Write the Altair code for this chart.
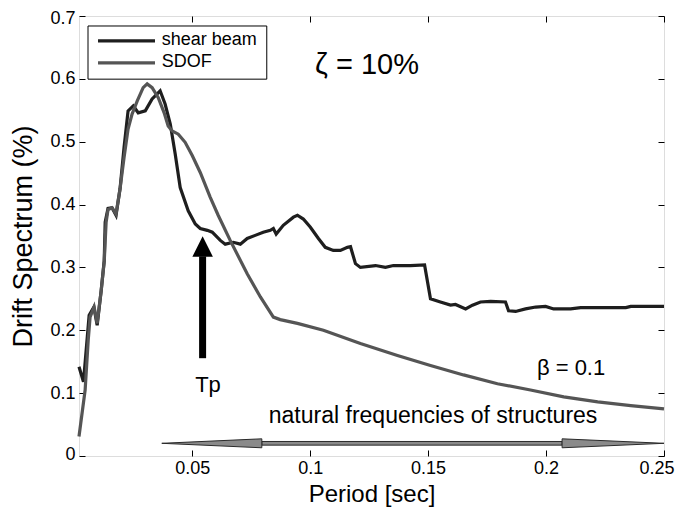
import altair as alt
import pandas as pd

# ---------------- data ----------------
beam_period = [0.0020, 0.0039, 0.0063, 0.0083, 0.0097, 0.0114, 0.0127, 0.0131, 0.0143, 0.0160,
               0.0177, 0.0194, 0.0211, 0.0228, 0.0250, 0.0271, 0.0301, 0.0330, 0.0364, 0.0385,
               0.0407, 0.0428, 0.0449, 0.0483, 0.0513, 0.0534, 0.0564, 0.0585, 0.0619, 0.0640,
               0.0674, 0.0704, 0.0733, 0.0767, 0.0801, 0.0831, 0.0844, 0.0856, 0.0886, 0.0929,
               0.0946, 0.0971, 0.1001, 0.1035, 0.1064, 0.1098, 0.1128, 0.1158, 0.1171, 0.1192,
               0.1213, 0.1277, 0.1319, 0.1353, 0.1425, 0.1485, 0.1510, 0.1552, 0.1595, 0.1616,
               0.1659, 0.1688, 0.1722, 0.1765, 0.1828, 0.1841, 0.1871, 0.1913, 0.1956, 0.1998,
               0.2032, 0.2104, 0.2147, 0.2338, 0.2359, 0.2500]
beam_drift = [0.142, 0.118, 0.224, 0.237, 0.208, 0.263, 0.311, 0.372, 0.394, 0.395,
              0.383, 0.425, 0.491, 0.549, 0.557, 0.546, 0.549, 0.568, 0.581, 0.560,
              0.528, 0.480, 0.427, 0.390, 0.369, 0.362, 0.359, 0.356, 0.343, 0.337,
              0.340, 0.337, 0.346, 0.351, 0.356, 0.359, 0.362, 0.353, 0.367, 0.380,
              0.383, 0.377, 0.364, 0.346, 0.332, 0.327, 0.327, 0.332, 0.333, 0.306,
              0.300, 0.303, 0.300, 0.303, 0.303, 0.304, 0.250, 0.245, 0.240, 0.241,
              0.234, 0.240, 0.245, 0.246, 0.245, 0.231, 0.230, 0.234, 0.237, 0.238,
              0.234, 0.234, 0.236, 0.236, 0.238, 0.238]

sdof_period = [0.0020, 0.0046, 0.0059, 0.0067, 0.0084, 0.0097, 0.0114, 0.0127, 0.0135, 0.0143,
               0.0160, 0.0177, 0.0194, 0.0211, 0.0228, 0.0245, 0.0267, 0.0292, 0.0309, 0.0330,
               0.0356, 0.0381, 0.0398, 0.0415, 0.0441, 0.0470, 0.0500, 0.0534, 0.0576, 0.0610,
               0.0661, 0.0733, 0.0789, 0.0844, 0.0873, 0.0946, 0.1056, 0.1213, 0.1370, 0.1510,
               0.1650, 0.1794, 0.1934, 0.2075, 0.2219, 0.2359, 0.2500]
sdof_drift = [0.031, 0.105, 0.184, 0.221, 0.237, 0.211, 0.263, 0.310, 0.372, 0.392,
              0.395, 0.385, 0.425, 0.475, 0.520, 0.544, 0.565, 0.586, 0.592, 0.586,
              0.570, 0.546, 0.525, 0.517, 0.512, 0.499, 0.478, 0.451, 0.412, 0.383,
              0.343, 0.290, 0.253, 0.221, 0.217, 0.211, 0.200, 0.179, 0.160, 0.144,
              0.129, 0.115, 0.105, 0.094, 0.086, 0.080, 0.075]

series_names = ["shear beam", "SDOF"]
series_colors = ["#1e1e1e", "#555555"]

x_ticks = [0.05, 0.1, 0.15, 0.2, 0.25]
y_ticks = [0, 0.1, 0.2, 0.3, 0.4, 0.5, 0.6, 0.7]
x_domain = [0.002, 0.25]
y_domain = [0, 0.7]

# annotation texts (position in data units)
note_text = ["ζ = 10%", "β = 0.1", "Tp", "natural frequencies of structures"]
note_x = [0.1241, 0.2106, 0.0567, 0.1521]
note_y = [0.6079, 0.1286, 0.1021, 0.0529]
note_size = [29, 22, 22, 23]

# Tp arrow
tp_x = [0.0544]
tp_shaft = [0.1556, 0.3175]
tp_head_y = [0.3333]

# double-headed arrow ("natural frequencies of structures")
band_y = 0.0202
band_tips = [0.0371, 0.2500]
band_bases = [0.0795, 0.2068]
band_head_half = 0.00714
band_shaft_half = 0.0029

# legend box (data units)
legend_box = dict(x=0.00582, x2=0.0816, y=0.5995, y2=0.6841)
legend_line_x = [0.01006, 0.03422]
legend_row_y = [0.6603, 0.6254]
legend_text_x = 0.03706

FONT = "Liberation Sans"

# ---------------- build ----------------
xs = alt.Scale(domain=x_domain, nice=False, zero=False)
ys = alt.Scale(domain=y_domain, nice=False, zero=False)


def X(f):
    return alt.X(f"{f}:Q", scale=xs, axis=None)


def Y(f):
    return alt.Y(f"{f}:Q", scale=ys, axis=None)


beam_df = pd.DataFrame({"period": beam_period, "drift": beam_drift})
sdof_df = pd.DataFrame({"period": sdof_period, "drift": sdof_drift})

beam = alt.Chart(beam_df).mark_line(color=series_colors[0], strokeWidth=3.2).encode(
    x=alt.X("period:Q", scale=xs, axis=alt.Axis(
        orient="bottom", values=x_ticks, format="~g", title="Period [sec]",
        labelFont=FONT, labelFontSize=18, labelColor="black", labelPadding=3,
        labelFlush=True, labelFlushOffset=10,
        titleFont=FONT, titleFontSize=24, titleFontWeight="normal", titleColor="black",
        titlePadding=5, tickSize=6, offset=-6, tickColor="black", domain=False, grid=False)),
    y=alt.Y("drift:Q", scale=ys, axis=alt.Axis(
        orient="left", values=y_ticks, format="~g", title="Drift Spectrum (%)",
        labelFont=FONT, labelFontSize=18, labelColor="black", labelPadding=4,
        labelFlush=True, labelFlushOffset=7,
        titleFont=FONT, titleFontSize=27, titleFontWeight="normal", titleColor="black",
        titlePadding=12, tickSize=6, offset=-6, tickColor="black", domain=False, grid=False)),
    order="period:Q",
)

sdof = alt.Chart(sdof_df).mark_line(color=series_colors[1], strokeWidth=3.2).encode(
    x=alt.X("period:Q", scale=xs, axis=alt.Axis(
        orient="top", values=x_ticks, labels=False, title=None, tickSize=6, offset=-6,
        tickColor="black", domain=False, grid=False)),
    y=alt.Y("drift:Q", scale=ys, axis=alt.Axis(
        orient="right", values=y_ticks, labels=False, title=None, tickSize=6, offset=-6,
        tickColor="black", domain=False, grid=False)),
    order="period:Q",
)

notes_df = pd.DataFrame({"t": note_text, "x": note_x, "y": note_y, "s": note_size})
notes = alt.Chart(notes_df).mark_text(font=FONT, align="center", baseline="alphabetic",
                                      color="black").encode(
    x=X("x"), y=Y("y"), text="t:N",
    size=alt.Size("s:Q", scale=None, legend=None))

shaft_df = pd.DataFrame({"x": tp_x, "y": [tp_shaft[0]], "y2": [tp_shaft[1]]})
tp_shaft_mark = alt.Chart(shaft_df).mark_rule(color="black", strokeWidth=7).encode(
    x=X("x"), y=Y("y"), y2="y2:Q")
head_df = pd.DataFrame({"x": tp_x, "y": tp_head_y})
tp_head = alt.Chart(head_df).mark_point(
    shape="M0,-1L1,1L-1,1Z", size=420, filled=True, color="black", opacity=1,
    strokeWidth=0).encode(x=X("x"), y=Y("y"))

# double arrow: shaft + two heads as areas
band_shaft_df = pd.DataFrame({
    "x": [band_bases[0], band_bases[1]],
    "lo": [band_y - band_shaft_half] * 2,
    "hi": [band_y + band_shaft_half] * 2,
})
band_shaft = alt.Chart(band_shaft_df).mark_area(
    color="#8a8a8a", stroke="#2a2a2a", strokeWidth=1, opacity=1).encode(
    x=X("x"), y=Y("lo"), y2="hi:Q")
band_head_df = pd.DataFrame({
    "part": ["left", "left", "right", "right"],
    "x": [band_tips[0], band_bases[0], band_bases[1], band_tips[1]],
    "lo": [band_y, band_y - band_head_half, band_y - band_head_half, band_y],
    "hi": [band_y, band_y + band_head_half, band_y + band_head_half, band_y],
})
band_heads = alt.Chart(band_head_df).mark_area(
    color="#8a8a8a", stroke="#2a2a2a", strokeWidth=1, opacity=1).encode(
    x=X("x"), y=Y("lo"), y2="hi:Q", detail="part:N")

# legend
box_df = pd.DataFrame([legend_box])
leg_box = alt.Chart(box_df).mark_rect(fill="white", stroke="black", strokeWidth=1).encode(
    x=X("x"), x2="x2:Q", y=Y("y"), y2="y2:Q")
leg_df = pd.DataFrame({
    "name": series_names, "x": [legend_line_x[0]] * 2, "x2": [legend_line_x[1]] * 2,
    "y": legend_row_y, "tx": [legend_text_x] * 2,
})
leg_lines = alt.Chart(leg_df).mark_rule(strokeWidth=3.2).encode(
    x=X("x"), x2="x2:Q", y=Y("y"),
    color=alt.Color("name:N", scale=alt.Scale(domain=series_names, range=series_colors),
                    legend=None))
leg_text = alt.Chart(leg_df).mark_text(font=FONT, fontSize=18, align="left",
                                       baseline="middle", color="black", dy=-1).encode(
    x=X("tx"), y=Y("y"), text="name:N")

chart = alt.layer(
    beam, sdof, notes, tp_shaft_mark, tp_head, band_shaft, band_heads,
    leg_box, leg_lines, leg_text,
).resolve_axis(x="independent", y="independent").properties(
    width=585, height=440,
    autosize=alt.AutoSizeParams(type="none"),
    padding={"left": 71, "top": 8, "right": 11, "bottom": 51},
).configure_view(stroke="black", strokeWidth=1).configure(background="white")

chart.save("out.html", embed_options={"renderer": "svg", "actions": False})
